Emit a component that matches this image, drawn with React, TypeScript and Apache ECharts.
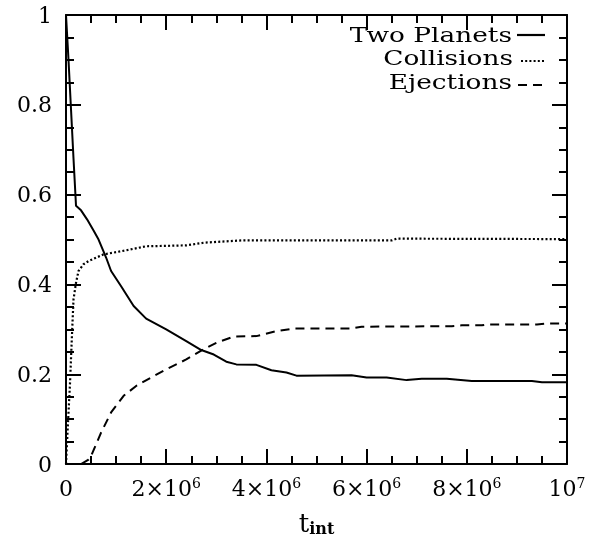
import React, { useEffect, useRef } from "react";
import * as echarts from "echarts";

// time in units of 10^6
const planetsT = [0, 0.05, 0.1, 0.15, 0.2, 0.3, 0.42, 0.55, 0.65, 0.8, 0.9, 1.1, 1.35, 1.6, 2.0, 2.4, 2.7, 2.95, 3.2, 3.4, 3.8, 4.1, 4.4, 4.6, 5.7, 6.0, 6.4, 6.8, 7.1, 7.6, 8.1, 9.3, 9.5, 10];
const planetsV = [1.0, 0.9, 0.79, 0.68, 0.575, 0.565, 0.545, 0.52, 0.5, 0.46, 0.43, 0.396, 0.352, 0.324, 0.3, 0.274, 0.254, 0.244, 0.228, 0.222, 0.221, 0.209, 0.204, 0.197, 0.198, 0.193, 0.193, 0.187, 0.19, 0.19, 0.185, 0.185, 0.182, 0.182];

const collT = [0, 0.03, 0.08, 0.12, 0.15, 0.2, 0.25, 0.35, 0.45, 0.75, 1.2, 1.6, 2.4, 2.75, 3.5, 6.5, 6.6, 10];
const collV = [0, 0.07, 0.18, 0.29, 0.367, 0.404, 0.43, 0.445, 0.452, 0.467, 0.476, 0.485, 0.487, 0.493, 0.498, 0.498, 0.502, 0.501];

const ejT = [0, 0.3, 0.45, 0.5, 0.7, 0.9, 1.15, 1.4, 1.7, 2.0, 2.4, 2.75, 3.0, 3.35, 3.8, 4.2, 4.55, 5.7, 5.9, 7.7, 7.9, 8.3, 8.4, 9.4, 9.6, 10];
const ejV = [0, 0, 0.01, 0.018, 0.07, 0.115, 0.152, 0.174, 0.193, 0.211, 0.233, 0.256, 0.27, 0.284, 0.285, 0.296, 0.302, 0.302, 0.306, 0.307, 0.309, 0.309, 0.311, 0.311, 0.313, 0.313];

const seriesNames = ["Two Planets", "Collisions", "Ejections"];

const FONT = "DejaVu Serif";

function pairs(t: number[], v: number[]) {
  return t.map((x, i) => [x * 1e6, v[i]]);
}

function xLabel(value: number) {
  if (value === 0) return "{a|0}";
  if (value === 1e7) return "{a|10}{b|7}";
  return `{a|${Math.round(value / 1e6)}×10}{b|6}`;
}

function baseAxis(pos: string, isX: boolean): any {
  return {
    type: "value",
    position: pos,
    min: 0,
    max: isX ? 1e7 : 1,
    interval: isX ? 2e6 : 0.2,
    axisLine: { show: true, onZero: false, lineStyle: { color: "black", width: 2 } },
    axisTick: { show: true, inside: true, length: 15, lineStyle: { color: "black", width: 2 } },
    minorTick: { show: true, splitNumber: 4, length: 8, lineStyle: { color: "black", width: 2 } },
    splitLine: { show: false },
    minorSplitLine: { show: false },
    axisLabel: { show: false },
  };
}

export default function App() {
  const ref = useRef<HTMLDivElement>(null);
  useEffect(() => {
    if (!ref.current) return;
    const chart = echarts.init(ref.current, undefined, { renderer: "svg" });
    const lineBase = { type: "line", showSymbol: false, symbol: "none", smooth: false, xAxisIndex: 0, yAxisIndex: 0 };

    const xBottom = baseAxis("bottom", true);
    xBottom.axisLabel = {
      show: true,
      margin: 12,
      formatter: (v: number) => xLabel(v),
      rich: {
        a: { fontFamily: FONT, fontSize: 22, color: "#000", lineHeight: 24 },
        b: { fontFamily: FONT, fontSize: 14, color: "#000", verticalAlign: "top", lineHeight: 14 },
      },
    };
    xBottom.name = "{t|t}{s|int}";
    xBottom.nameLocation = "middle";
    xBottom.nameGap = 38;
    xBottom.nameTextStyle = {
      rich: {
        t: { fontFamily: FONT, fontSize: 26, color: "#000", lineHeight: 26, verticalAlign: "top" },
        s: { fontFamily: FONT, fontSize: 16, fontWeight: "bold", color: "#000", lineHeight: 16, verticalAlign: "bottom", padding: [16, 0, 0, 0] },
      },
    };
    const xTop = baseAxis("top", true);
    const yLeft = baseAxis("left", false);
    yLeft.axisLabel = { show: true, margin: 14, fontFamily: FONT, fontSize: 22, color: "#000" };
    const yRight = baseAxis("right", false);

    const option: any = {
      animation: false,
      grid: { left: 66, right: 41, top: 15, bottom: 76 },
      xAxis: [xBottom, xTop],
      yAxis: [yLeft, yRight],
      series: [
        { ...lineBase, name: seriesNames[0], data: pairs(planetsT, planetsV), lineStyle: { color: "#000", width: 2, type: "solid" } },
        { ...lineBase, name: seriesNames[1], data: pairs(collT, collV), lineStyle: { color: "#000", width: 2.2, type: [2, 2.2] } },
        { ...lineBase, name: seriesNames[2], data: pairs(ejT, ejV), lineStyle: { color: "#000", width: 2, type: [9, 6] } },
      ],
      graphic: [
        { type: "text", x: 512, y: 35, scaleX: 1.32, style: { text: seriesNames[0], font: `20px "${FONT}"`, fill: "#000", align: "right", verticalAlign: "middle" } },
        { type: "text", x: 513, y: 58, scaleX: 1.32, style: { text: seriesNames[1], font: `20px "${FONT}"`, fill: "#000", align: "right", verticalAlign: "middle" } },
        { type: "text", x: 512, y: 82, scaleX: 1.32, style: { text: seriesNames[2], font: `20px "${FONT}"`, fill: "#000", align: "right", verticalAlign: "middle" } },
        { type: "line", shape: { x1: 517, y1: 35, x2: 545, y2: 35 }, style: { stroke: "#000", lineWidth: 2.2 } },
        { type: "line", shape: { x1: 521, y1: 61, x2: 545, y2: 61 }, style: { stroke: "#000", lineWidth: 2, lineDash: [2, 2.2] } },
        { type: "line", shape: { x1: 518, y1: 85, x2: 545, y2: 85 }, style: { stroke: "#000", lineWidth: 2, lineDash: [9, 6] } },
      ],
    };
    chart.setOption(option);
    return () => chart.dispose();
  }, []);
  return <div ref={ref} style={{ position: "fixed", left: 0, top: 0, width: 608, height: 541 }} />;
}
